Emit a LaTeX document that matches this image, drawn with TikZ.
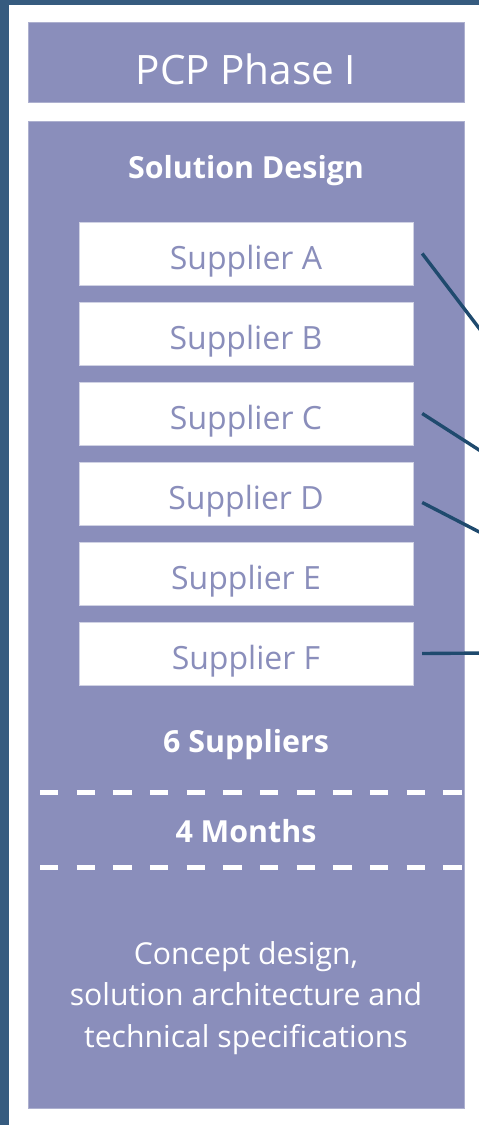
\documentclass[tikz,border=0pt]{standalone}
\usepackage{fontspec}
\setmainfont{Open Sans}
\definecolor{phase}{RGB}{138,142,187}
\definecolor{frame}{RGB}{54,91,127}
\definecolor{link}{RGB}{31,74,110}
\begin{document}
\begin{tikzpicture}[x=1pt,y=-1pt,
  panel/.style={fill=phase,draw=phase!70!white,line width=0.6pt,inner sep=0pt,minimum width=436pt},
  supbox/.style={fill=white,draw=phase!40!white,line width=0.4pt,inner sep=0pt,minimum width=334pt,minimum height=63pt,
    text height=31pt,text depth=0pt,text=phase,font=\fontsize{32}{38}\selectfont},
  head/.style={text=white,anchor=base,inner sep=0pt,font=\fontsize{30.4}{36}\selectfont\bfseries},
  divider/.style={white,line width=5pt,dash pattern=on 18.33pt off 18.33pt},
  connector/.style={link,line width=3.4pt}]
\useasboundingbox (0,0) rectangle (479,1125);
\clip (0,0) rectangle (479,1125);
\fill[white] (0,0) rectangle (479,1125);
\fill[frame] (0,0) rectangle (479,4.5);
\fill[frame] (0,0) rectangle (9,1125);
% title
\node[panel,minimum height=80pt,text height=44pt,text depth=0pt,text=white,font=\fontsize{40.5}{48}\selectfont] (title) at (246,62) {PCP Phase I};
% main panel
\node[panel,minimum height=987pt] (main) at (246,614.5) {};
\node[head] (design) at (246,178) {Solution Design};
\node[supbox] (sA) at (246,253.5) {Supplier A};
\node[supbox] (sB) at (246,333.5) {Supplier B};
\node[supbox] (sC) at (246,413.5) {Supplier C};
\node[supbox] (sD) at (246,493.5) {Supplier D};
\node[supbox] (sE) at (246,573.5) {Supplier E};
\node[supbox] (sF) at (246,653.5) {Supplier F};
\node[head] (count) at (246,752) {6 Suppliers};
\node[head] (months) at (246,842) {4 Months};
\node[text=white,anchor=base,inner sep=0pt,align=center,font=\fontsize{30.2}{41.5}\selectfont] (concept) at (246,1047)
  {Concept design,\\solution architecture and\\technical specifications};
% dividers
\coordinate (d1l) at (40,792); \coordinate (d1r) at (464,792);
\coordinate (d2l) at (40,867); \coordinate (d2r) at (464,867);
\draw[divider] (d1l) -- (d1r);
\draw[divider] (d2l) -- (d2r);
% connectors
\coordinate (eA) at (490,342.5);
\coordinate (eC) at (490,457);
\coordinate (eD) at (490,537.5);
\coordinate (eF) at (490,653);
\draw[connector] ([xshift=9pt]sA.east) -- (eA);
\draw[connector] ([xshift=9pt]sC.east) -- (eC);
\draw[connector] ([xshift=9pt,yshift=-9pt]sD.east) -- (eD);
\draw[connector] ([xshift=9pt]sF.east) -- (eF);
\end{tikzpicture}
\end{document}
